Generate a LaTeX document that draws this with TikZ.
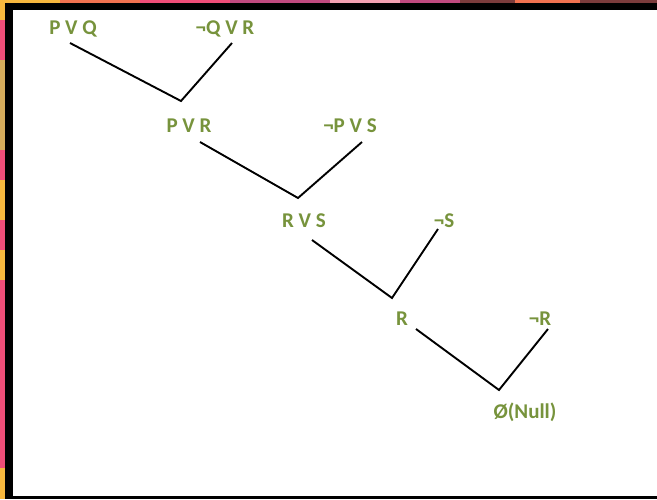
\documentclass[tikz,border=0pt]{standalone}
\usepackage{fontspec}
\setmainfont{Carlito}
\begin{document}
\begin{tikzpicture}[x=1pt,y=-1pt,
  lbl/.style={text=olivegreen,font=\bfseries\fontsize{21}{25}\selectfont,inner sep=0pt,anchor=center},
  edge/.style={draw=black,line width=1.9pt,line join=miter}]
\definecolor{olivegreen}{HTML}{77933C}
\definecolor{cyel}{HTML}{F8B83E}
\definecolor{cpink}{HTML}{F04E78}
\definecolor{ctan}{HTML}{D6AC5C}
\definecolor{cmaroon}{HTML}{7C3C3C}
\definecolor{corange}{HTML}{F27250}
\definecolor{cmag}{HTML}{C24A80}
\definecolor{clpink}{HTML}{F4A2B2}
\useasboundingbox (0,0) rectangle (657,499);
% colourful backdrop strips
\fill[cyel] (0,0) rectangle (657,3);
\fill[corange] (60,0) rectangle (140,3);
\fill[cpink] (140,0) rectangle (230,3);
\fill[cmag] (230,0) rectangle (330,3);
\fill[clpink] (330,0) rectangle (400,3);
\fill[cmag] (400,0) rectangle (460,3);
\fill[cmaroon] (460,0) rectangle (515,3);
\fill[corange] (515,0) rectangle (580,3);
\fill[cmaroon] (580,0) rectangle (657,3);
\fill[cyel] (0,0) rectangle (6,499);
\fill[cpink] (0,20) rectangle (6,60);
\fill[ctan] (0,60) rectangle (6,150);
\fill[cpink] (0,150) rectangle (6,180);
\fill[cyel] (0,180) rectangle (6,220);
\fill[cpink] (0,220) rectangle (6,250);
\fill[cyel] (0,250) rectangle (6,280);
\fill[cpink] (0,280) rectangle (6,468);
% black frame and white panel
\fill[black] (5,2.5) rectangle (657,499);
\fill[white] (12.5,10) rectangle (657,495.5);
% labels
\node[lbl] (pvq) at (73,29) {P V Q};
\node[lbl] (nqvr) at (225,29) {¬Q V R};
\node[lbl] (pvr) at (189,126) {P V R};
\node[lbl] (npvs) at (350,126) {¬P V S};
\node[lbl] (rvs) at (304,221) {R V S};
\node[lbl] (ns) at (444,221) {¬S};
\node[lbl] (r) at (402,319) {R};
\node[lbl] (nr) at (540,319) {¬R};
\node[lbl] (null) at (525,412) {Ø(Null)};
% line end points
\coordinate (a1) at (70,43);
\coordinate (b1) at (181,101);
\coordinate (c1) at (232,43);
\coordinate (a2) at (200,142);
\coordinate (b2) at (298,198);
\coordinate (c2) at (362,142);
\coordinate (a3) at (312,240);
\coordinate (b3) at (392,298);
\coordinate (c3) at (438,229);
\coordinate (a4) at (416,329);
\coordinate (b4) at (499,390);
\coordinate (c4) at (548,329);
\draw[edge] (a1) -- (b1) -- (c1);
\draw[edge] (a2) -- (b2) -- (c2);
\draw[edge] (a3) -- (b3) -- (c3);
\draw[edge] (a4) -- (b4) -- (c4);
\end{tikzpicture}
\end{document}
